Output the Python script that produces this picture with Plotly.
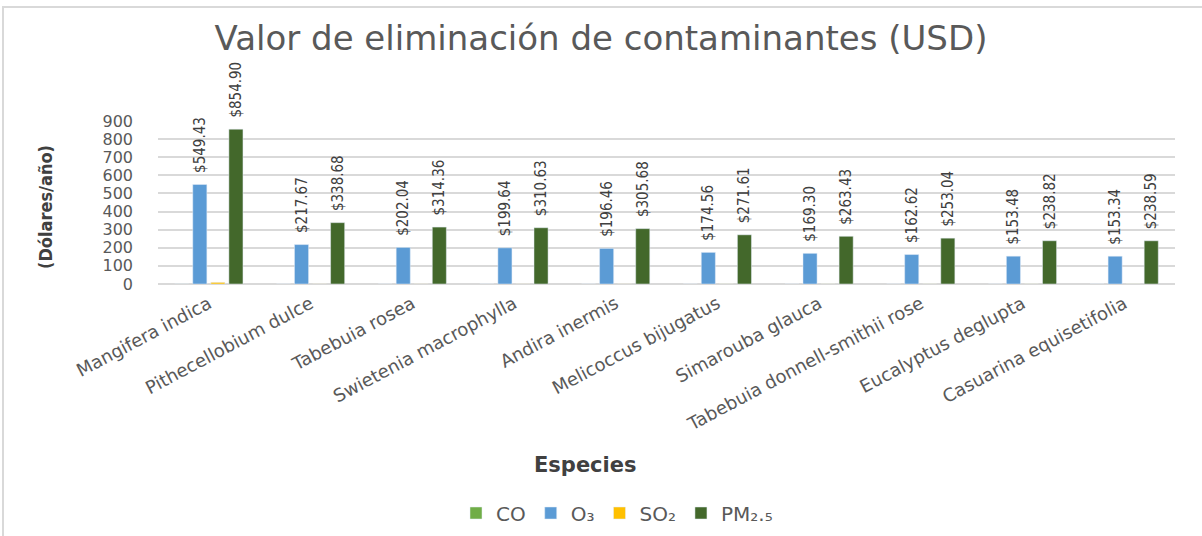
import plotly.graph_objects as go

especies = [
    "Mangifera indica",
    "Pithecellobium dulce",
    "Tabebuia rosea",
    "Swietenia macrophylla",
    "Andira inermis",
    "Melicoccus bijugatus",
    "Simarouba glauca",
    "Tabebuia donnell-smithii rose",
    "Eucalyptus deglupta",
    "Casuarina equisetifolia",
]
co = [0.3, 0.1, 0.1, 0.1, 0.1, 0.1, 0.1, 0.1, 0.1, 0.1]
o3 = [549.43, 217.67, 202.04, 199.64, 196.46, 174.56, 169.30, 162.62, 153.48, 153.34]
so2 = [9.0, 0.6, 0.6, 0.6, 0.6, 0.5, 0.5, 0.5, 0.5, 0.5]
pm25 = [854.90, 338.68, 314.36, 310.63, 305.68, 271.61, 263.43, 253.04, 238.82, 238.59]

W, H = 1202, 536
L, R, T, B = 158, 27, 121, 252
GRAY = "#595959"
label_font = dict(family="DejaVu Sans Condensed, sans-serif", size=15, color="#404040")


def px_x(px):
    return (px - L) / (W - L - R)


def px_y(py):
    return (H - B - py) / (H - T - B)


def money(values):
    return [f"\u00a0\u00a0${v:,.2f}" for v in values]


fig = go.Figure()
fig.add_trace(go.Bar(name="CO", x=especies, y=co, marker_color="#70AD47"))
fig.add_trace(go.Bar(
    name="O₃", x=especies, y=o3, marker_color="#5B9BD5",
    text=money(o3), textposition="outside", textangle=-90,
    textfont=label_font, cliponaxis=False, constraintext="none",
))
fig.add_trace(go.Bar(name="SO₂", x=especies, y=so2, marker_color="#FFC000"))
fig.add_trace(go.Bar(
    name="PM₂.₅", x=especies, y=pm25, marker_color="#43682B",
    text=money(pm25), textposition="outside", textangle=-90,
    textfont=label_font, cliponaxis=False, constraintext="none",
))

fig.update_layout(
    width=W,
    height=H,
    margin=dict(l=L, r=R, t=T, b=B, autoexpand=False),
    paper_bgcolor="white",
    plot_bgcolor="white",
    barmode="group",
    bargap=0.29,
    bargroupgap=0.22,
    font=dict(family="DejaVu Sans, sans-serif", color=GRAY),
    title=dict(
        text="Valor de eliminación de contaminantes (USD)",
        x=0.5, xref="container", xanchor="center",
        y=1 - 38 / H, yanchor="middle",
        font=dict(size=34, color=GRAY),
    ),
    showlegend=True,
    legend=dict(
        orientation="h", x=px_x(617), xanchor="center", y=px_y(513), yanchor="middle",
        font=dict(size=20, color=GRAY), itemwidth=30, traceorder="normal",
    ),
)
fig.update_yaxes(
    range=[0, 900], dtick=100, showgrid=True, gridcolor="#D9D9D9", gridwidth=1.5,
    zeroline=True, zerolinecolor="#D9D9D9", zerolinewidth=1.5, showline=False,
    tickfont=dict(size=16, color=GRAY), ticks="", ticklabelstandoff=24,
    automargin=False,
)
fig.update_xaxes(
    tickangle=-28, tickfont=dict(size=18, color=GRAY), showline=False, ticks="",
    ticklabelstandoff=5, automargin=False,
)
fig.add_annotation(
    text="<b>(Dólares/año)</b>", textangle=-90, showarrow=False,
    xref="paper", yref="paper", x=px_x(45), y=px_y(207),
    xanchor="center", yanchor="middle",
    font=dict(size=18, color="#404040", family="DejaVu Sans Condensed, sans-serif"),
)
fig.add_annotation(
    text="<b>Especies</b>", showarrow=False,
    xref="paper", yref="paper", x=px_x(585), y=px_y(465),
    xanchor="center", yanchor="middle",
    font=dict(size=21, color="#404040"),
)
fig.add_shape(
    type="rect", xref="paper", yref="paper",
    x0=px_x(3), x1=px_x(1215), y0=px_y(560), y1=px_y(7),
    line=dict(color="#D9D9D9", width=2), fillcolor="rgba(0,0,0,0)", layer="below",
)

fig.write_html(
    "out.html",
    config={"displayModeBar": False},
    post_script="document.body.style.margin='0';",
)
